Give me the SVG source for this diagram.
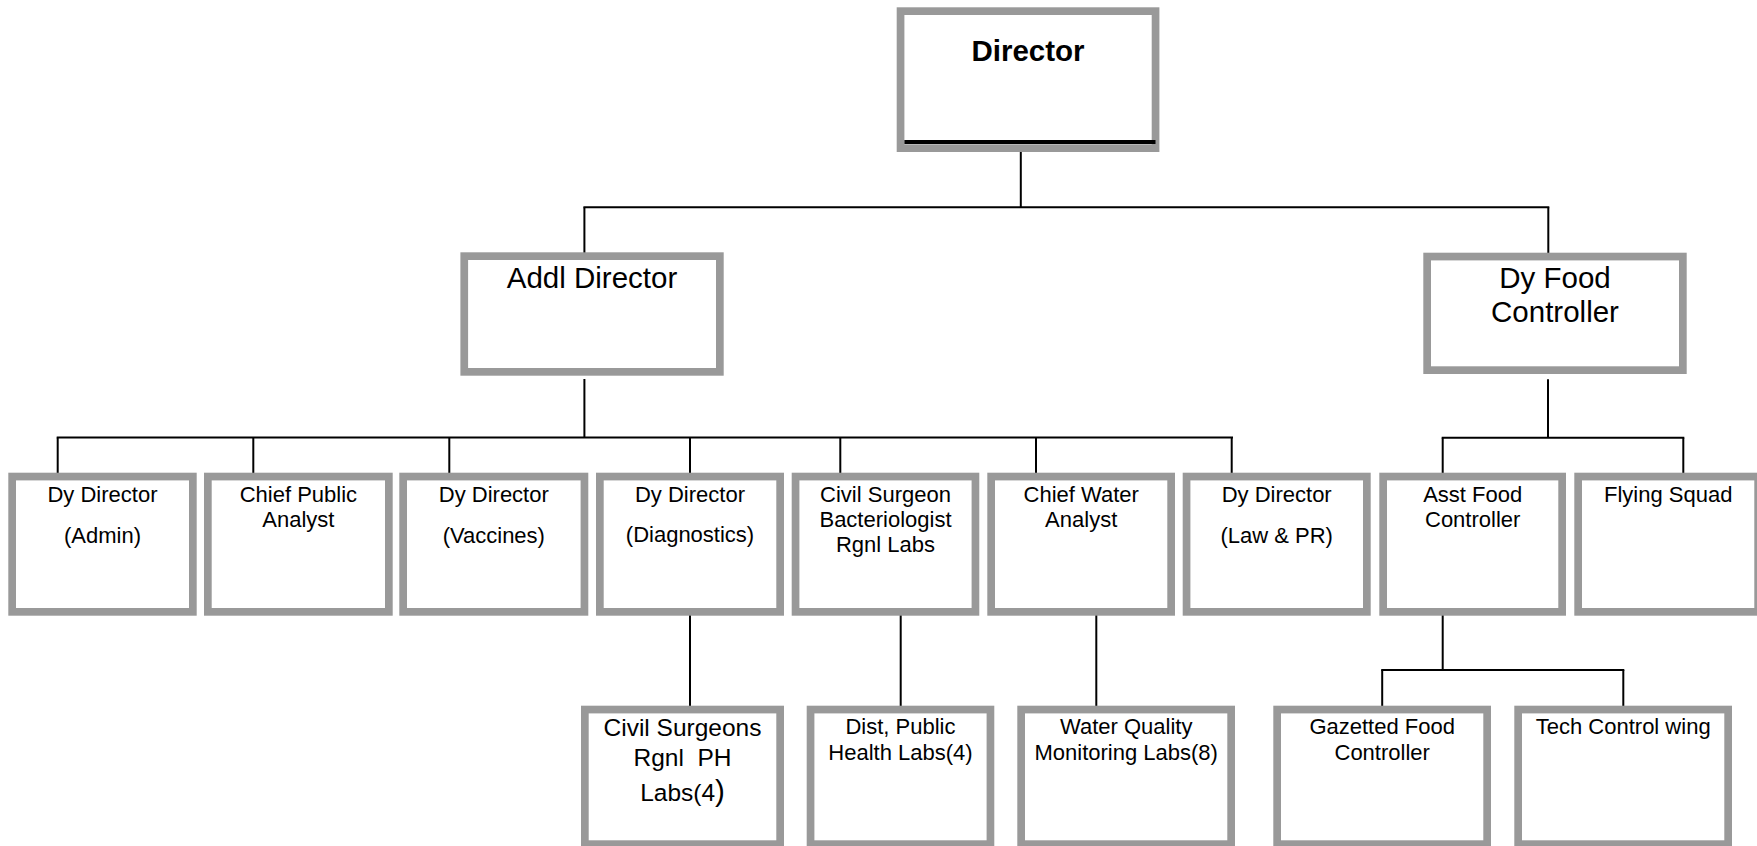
<svg xmlns="http://www.w3.org/2000/svg" width="1757" height="846" viewBox="0 0 1757 846">
<style>
.box{fill:#fff;stroke:#999;stroke-width:7.7}
.t{font-family:"Liberation Sans",Arial,sans-serif;font-size:22px;text-anchor:middle;fill:#000}
.big{font-size:29.5px}
.mid{font-size:24.5px}
.conn line{stroke:#000;stroke-width:2}
</style>
<rect width="1757" height="846" fill="#fff"/>
<g class="conn" id="connectors">
<line x1="1020.8" y1="146" x2="1020.8" y2="207.3"/>
<line x1="583.4" y1="207.3" x2="1549.3" y2="207.3"/>
<line x1="584.4" y1="207.3" x2="584.4" y2="253"/>
<line x1="1548.3" y1="207.3" x2="1548.3" y2="253"/>
<line x1="584.4" y1="379" x2="584.4" y2="437.5"/>
<line x1="56.7" y1="437.5" x2="1233" y2="437.5"/>
<line x1="57.7" y1="437.5" x2="57.7" y2="476"/>
<line x1="253.3" y1="437.5" x2="253.3" y2="476"/>
<line x1="449.3" y1="437.5" x2="449.3" y2="476"/>
<line x1="690" y1="437.5" x2="690" y2="476"/>
<line x1="840.3" y1="437.5" x2="840.3" y2="476"/>
<line x1="1036" y1="437.5" x2="1036" y2="476"/>
<line x1="1231.7" y1="437.5" x2="1231.7" y2="476"/>
<line x1="1548" y1="379.3" x2="1548" y2="437.7"/>
<line x1="1441.7" y1="437.7" x2="1684.3" y2="437.7"/>
<line x1="1442.7" y1="437.7" x2="1442.7" y2="476"/>
<line x1="1683.3" y1="437.7" x2="1683.3" y2="476"/>
<line x1="690" y1="612" x2="690" y2="709"/>
<line x1="900.7" y1="612" x2="900.7" y2="709"/>
<line x1="1096.3" y1="612" x2="1096.3" y2="709"/>
<line x1="1442.7" y1="612" x2="1442.7" y2="670"/>
<line x1="1381.2" y1="670" x2="1624.3" y2="670"/>
<line x1="1382.2" y1="670" x2="1382.2" y2="709"/>
<line x1="1623.3" y1="670" x2="1623.3" y2="709"/>
</g>
<g id="director">
<rect class="box" x="900.55" y="11.15" width="255" height="137"/>
<line x1="904.4" y1="142" x2="1155.5" y2="142" stroke="#000" stroke-width="4"/>
<text class="t big" x="1028" y="61" font-weight="bold">Director</text>
</g>
<g id="addl-director">
<rect class="box" x="464.25" y="256.15" width="255.6" height="115.7"/>
<text class="t big" x="592" y="287.7">Addl Director</text>
</g>
<g id="dy-food-controller">
<rect class="box" x="1427.15" y="256.55" width="255.7" height="113.6"/>
<text class="t big" x="1555" y="287.7">Dy Food</text>
<text class="t big" x="1555" y="322.3">Controller</text>
</g>
<g id="dy-director-admin">
<rect class="box" x="12.15" y="476.55" width="180.7" height="135.3"/>
<text class="t" x="102.5" y="502.3">Dy Director</text>
<text class="t" x="102.5" y="543">(Admin)</text>
</g>
<g id="chief-public-analyst">
<rect class="box" x="207.85" y="476.55" width="181" height="135.3"/>
<text class="t" x="298.4" y="502.3">Chief Public</text>
<text class="t" x="298.4" y="526.7">Analyst</text>
</g>
<g id="dy-director-vaccines">
<rect class="box" x="403.15" y="476.55" width="181.3" height="135.3"/>
<text class="t" x="493.8" y="502.3">Dy Director</text>
<text class="t" x="493.8" y="543">(Vaccines)</text>
</g>
<g id="dy-director-diagnostics">
<rect class="box" x="599.85" y="476.55" width="180.3" height="135.3"/>
<text class="t" x="690" y="502.3">Dy Director</text>
<text class="t" x="690" y="542">(Diagnostics)</text>
</g>
<g id="civil-surgeon-bacteriologist">
<rect class="box" x="795.55" y="476.55" width="179.9" height="135.3"/>
<text class="t" x="885.5" y="502.3">Civil Surgeon</text>
<text class="t" x="885.5" y="527.3">Bacteriologist</text>
<text class="t" x="885.5" y="552.3">Rgnl Labs</text>
</g>
<g id="chief-water-analyst">
<rect class="box" x="991.15" y="476.55" width="180" height="135.3"/>
<text class="t" x="1081.2" y="502.3">Chief Water</text>
<text class="t" x="1081.2" y="526.7">Analyst</text>
</g>
<g id="dy-director-law">
<rect class="box" x="1186.55" y="476.55" width="180.3" height="135.3"/>
<text class="t" x="1276.7" y="502.3">Dy Director</text>
<text class="t" x="1276.7" y="543">(Law &amp; PR)</text>
</g>
<g id="asst-food-controller">
<rect class="box" x="1383.15" y="476.55" width="179" height="135.3"/>
<text class="t" x="1472.7" y="501.7">Asst Food</text>
<text class="t" x="1472.7" y="526.7">Controller</text>
</g>
<g id="flying-squad">
<rect class="box" x="1578.15" y="476.55" width="180" height="135.3"/>
<text class="t" x="1668.2" y="502.3">Flying Squad</text>
</g>
<g id="civil-surgeons-rgnl-ph-labs">
<rect class="box" x="584.85" y="709.55" width="195.3" height="134.6"/>
<text class="t mid" x="682.5" y="735.7">Civil Surgeons</text>
<text class="t mid" x="682.5" y="765.7" xml:space="preserve">Rgnl  PH</text>
<text class="t mid" x="682.5" y="801">Labs(4<tspan font-size="29.5">)</tspan></text>
</g>
<g id="dist-public-health-labs">
<rect class="box" x="810.55" y="709.55" width="179.9" height="134.6"/>
<text class="t" x="900.5" y="734.3">Dist, Public</text>
<text class="t" x="900.5" y="760">Health Labs(4)</text>
</g>
<g id="water-quality-labs">
<rect class="box" x="1021.15" y="709.55" width="210" height="134.6"/>
<text class="t" x="1126.2" y="734.3">Water Quality</text>
<text class="t" x="1126.2" y="760">Monitoring Labs(8)</text>
</g>
<g id="gazetted-food-controller">
<rect class="box" x="1277.15" y="709.55" width="210" height="134.6"/>
<text class="t" x="1382.2" y="734.3">Gazetted Food</text>
<text class="t" x="1382.2" y="760">Controller</text>
</g>
<g id="tech-control-wing">
<rect class="box" x="1518.15" y="709.55" width="210" height="134.6"/>
<text class="t" x="1623.2" y="734.3">Tech Control wing</text>
</g>
</svg>
